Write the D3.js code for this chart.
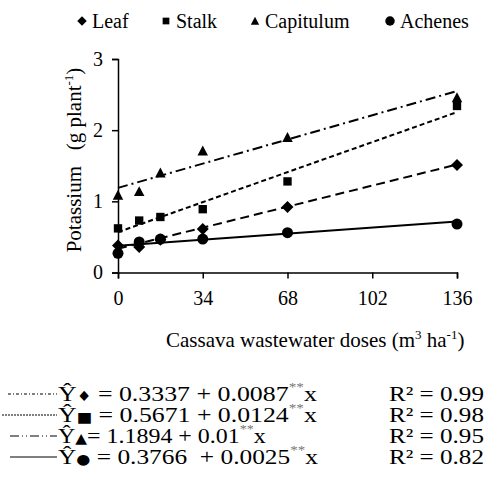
<!DOCTYPE html>
<html><head><meta charset="utf-8">
<script src="https://cdn.jsdelivr.net/npm/d3@7"></script>
<style>
body{margin:0;background:#fff;}
svg{display:block;}
text{font-family:"Liberation Serif","Times New Roman",serif;fill:#000;white-space:pre;}
</style></head>
<body><svg id="chart" width="485" height="495"></svg>
<script>
const doses = [0, 8.5, 17, 34, 68, 136];
const leaf = [0.38, 0.36, 0.46, 0.61, 0.92, 1.51];
const stalk = [0.62, 0.73, 0.78, 0.89, 1.28, 2.34];
const capitulum = [1.09, 1.14, 1.40, 1.71, 1.90, 2.46];
const achenes = [0.27, 0.43, 0.47, 0.47, 0.56, 0.68];
const seriesNames = ["Leaf", "Stalk", "Capitulum", "Achenes"];
const intercepts = [0.3337, 0.5671, 1.1894, 0.3766];
const slopes = [0.0087, 0.0124, 0.01, 0.0025];
const interceptLabels = ["0.3337", "0.5671", "1.1894", "0.3766 "];
const slopeLabels = ["0.0087", "0.0124", "0.01", "0.0025"];
const r2Labels = ["0.99", "0.98", "0.95", "0.82"];
const xTicks = [0, 34, 68, 102, 136];
const yTicks = [0, 1, 2, 3];

const svg = d3.select("#chart");
const x = d3.scaleLinear().domain([0, 136]).range([118, 457]);
const y = d3.scaleLinear().domain([0, 3]).range([272.5, 59]);

// custom symbols
const diamond = {draw(c, s){ const r = Math.sqrt(s)/2; c.moveTo(0,-r); c.lineTo(r,0); c.lineTo(0,r); c.lineTo(-r,0); c.closePath(); }};
const square = {draw(c, s){ const h = Math.sqrt(s)/2; c.rect(-h,-h,2*h,2*h); }};
const triangle = {draw(c, s){ const h = Math.sqrt(s)/2; c.moveTo(0,-h); c.lineTo(h,h*0.9); c.lineTo(-h,h*0.9); c.closePath(); }};
const circle = {draw(c, s){ const r = Math.sqrt(s)/2; c.moveTo(r,0); c.arc(0,0,r,0,2*Math.PI); }};
const symTypes = [diamond, square, triangle, circle];
const symSizes = [144, 70, 110, 121];
const dashes = ["9,5", "5,3", "10,4,2,4", null];
const data = [leaf, stalk, capitulum, achenes];

// axes
const gx = svg.append("g").attr("transform", `translate(0,${y(0)})`)
  .call(d3.axisBottom(x).tickValues(xTicks).tickFormat(d3.format("d")).tickSizeOuter(0).tickSize(6).tickPadding(12));
const gy = svg.append("g").attr("transform", `translate(${x(0)},0)`)
  .call(d3.axisLeft(y).tickValues(yTicks).tickFormat(d3.format("d")).tickSizeOuter(0).tickSize(6).tickPadding(9));
[gx, gy].forEach(g => {
  g.selectAll("path.domain").attr("stroke", "#000").attr("stroke-width", 1.5);
  g.selectAll(".tick line").attr("stroke", "#000").attr("stroke-width", 1.5);
  g.selectAll(".tick text").attr("font-family", '"Liberation Serif",serif').attr("font-size", 20).attr("fill", "#000");
});

// regression lines
data.forEach((vals, i) => {
  const line = d3.line().x(d => x(d)).y(d => y(intercepts[i] + slopes[i] * d));
  svg.append("path").datum([0, 136]).attr("d", line)
    .attr("fill", "none").attr("stroke", "#000").attr("stroke-width", 2)
    .attr("stroke-dasharray", dashes[i]);
});
// points
data.forEach((vals, i) => {
  svg.append("g").selectAll("path").data(vals).join("path")
    .attr("transform", (d, j) => `translate(${x(doses[j])},${y(d)})`)
    .attr("d", d3.symbol(symTypes[i], symSizes[i]))
    .attr("fill", "#000");
});

// top legend
const legX = [82, 166, 255, 390];
seriesNames.forEach((n, i) => {
  svg.append("path").attr("transform", `translate(${legX[i]},21)`)
    .attr("d", d3.symbol(symTypes[i], [90, 45, 70, 90][i])).attr("fill", "#000");
  svg.append("text").attr("x", legX[i] + 10).attr("y", 28).attr("font-size", 20).text(n);
});

// axis titles
svg.append("text").attr("transform", "translate(81,160) rotate(-90)")
  .attr("text-anchor", "middle").attr("font-size", 21)
  .call(t => { t.append("tspan").text("Potassium\u00A0\u00A0\u00A0(g plant");
    t.append("tspan").attr("font-size", 13).attr("dy", -8).text("-1");
    t.append("tspan").attr("dy", 8).text(")"); });
svg.append("text").attr("x", 166).attr("y", 347).attr("font-size", 21)
  .call(t => { t.append("tspan").text("Cassava wastewater doses (m");
    t.append("tspan").attr("font-size", 13).attr("dy", -8).text("3");
    t.append("tspan").attr("dy", 8).text(" ha");
    t.append("tspan").attr("font-size", 13).attr("dy", -8).text("-1");
    t.append("tspan").attr("dy", 8).text(")"); });

// equations block
const eqGlyphs = ["\u2666", "\u25A0", "\u25B2", "\u25CF"];
const sampleDash = ["3,2,1,2", "2,1", "9,3,1,3,1,3", null];
const sampleX0 = [8, 2, 10, 10];
const baseY = [401, 422, 443, 464];
const eqEnd = [317, 317, 266, 318];
seriesNames.forEach((n, i) => {
  svg.append("line").attr("x1", sampleX0[i]).attr("x2", 57)
    .attr("y1", baseY[i] - 7).attr("y2", baseY[i] - 7)
    .attr("stroke", "#000").attr("stroke-width", 1)
    .attr("stroke-dasharray", sampleDash[i]);
  const g = svg.append("g");
  const t = g.append("text").attr("x", 0).attr("y", 0).attr("font-size", 22);
  t.append("tspan").text("\u0176");
  t.append("tspan").attr("font-family", '"DejaVu Sans",sans-serif').attr("font-size", 14).text(eqGlyphs[i]);
  t.append("tspan").text((i === 2 ? "= " : " = ") + interceptLabels[i] + " + " + slopeLabels[i]);
  t.append("tspan").attr("font-size", 13).attr("dy", -10).attr("fill", "#777").text("**");
  t.append("tspan").attr("dy", 10).text("x");
  const w = t.node().getBBox().width;
  g.attr("transform", `translate(58,${baseY[i]}) scale(${(eqEnd[i] - 58) / w},1)`);
  const g2 = svg.append("g");
  const t2 = g2.append("text").attr("font-size", 22).text("R\u00B2 = " + r2Labels[i]);
  const w2 = t2.node().getBBox().width;
  g2.attr("transform", `translate(389,${baseY[i]}) scale(${95 / w2},1)`);
});
</script></body></html>
